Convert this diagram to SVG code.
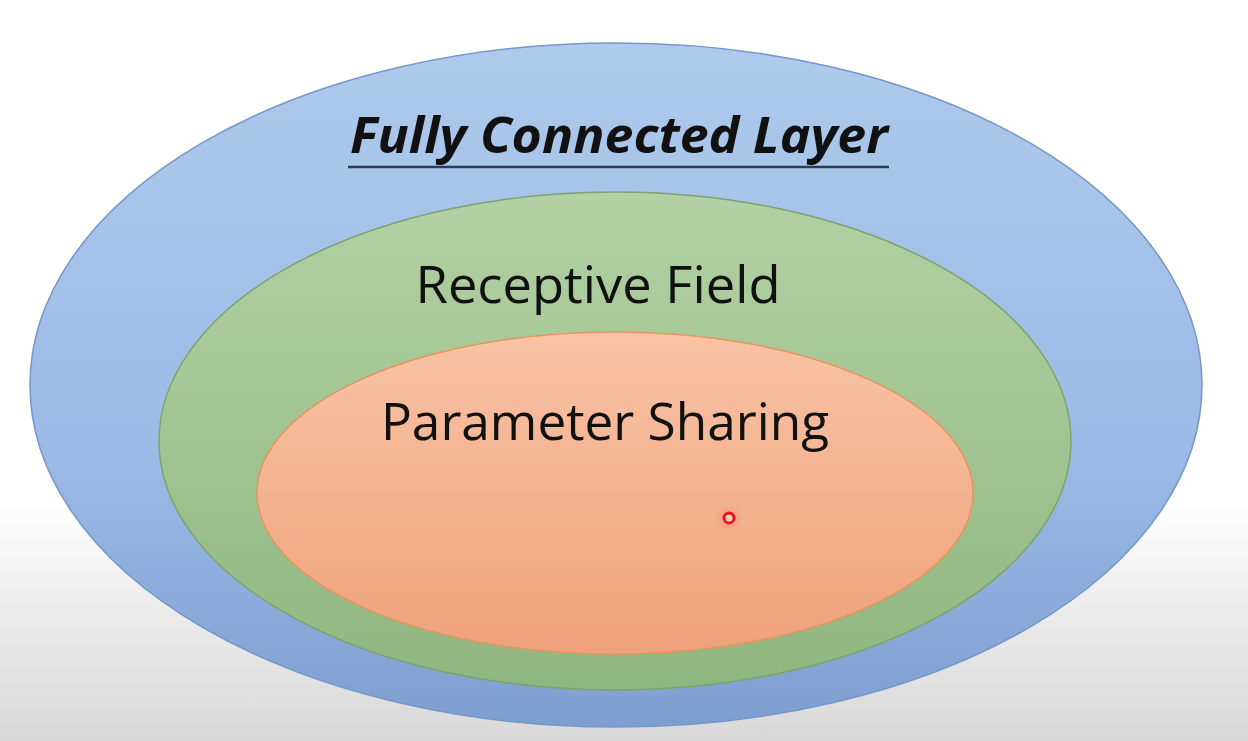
<svg xmlns="http://www.w3.org/2000/svg" width="1248" height="741" viewBox="0 0 1248 741">
<defs>
<linearGradient id="bg" x1="0" y1="0" x2="0" y2="1">
<stop offset="0" stop-color="#ffffff"/>
<stop offset="0.68" stop-color="#ffffff"/>
<stop offset="0.82" stop-color="#ececec"/>
<stop offset="1" stop-color="#d8d8d8"/>
</linearGradient>
<linearGradient id="gBlue" x1="0" y1="0" x2="0" y2="1">
<stop offset="0" stop-color="#aecaec"/>
<stop offset="0.6" stop-color="#9bbae6"/>
<stop offset="1" stop-color="#7d9fd0"/>
</linearGradient>
<linearGradient id="gGreen" x1="0" y1="0" x2="0" y2="1">
<stop offset="0" stop-color="#b3d1a4"/>
<stop offset="1" stop-color="#90b67f"/>
</linearGradient>
<linearGradient id="gOrange" x1="0" y1="0" x2="0" y2="1">
<stop offset="0" stop-color="#f9c3a6"/>
<stop offset="1" stop-color="#eea27a"/>
</linearGradient>
<radialGradient id="glow">
<stop offset="0" stop-color="#ff6060" stop-opacity="0.35"/>
<stop offset="1" stop-color="#ff6060" stop-opacity="0"/>
</radialGradient>
</defs>
<style>
.lbl{font-family:"Open Sans","Liberation Sans",sans-serif;fill:#111;text-anchor:middle}
.title{font-weight:bold;font-style:italic}
</style>
<rect x="0" y="0" width="1248" height="741" fill="url(#bg)"/>
<g id="fully-connected">
<ellipse cx="616" cy="385" rx="586" ry="342" fill="url(#gBlue)" stroke="#7596c8" stroke-width="1.5"/>
<text class="lbl title" x="619" y="153" font-size="50" textLength="538" lengthAdjust="spacingAndGlyphs">Fully Connected Layer</text>
<line x1="348" y1="167" x2="889" y2="167" stroke="#2c3e55" stroke-width="2.5"/>
</g>
<g id="receptive-field">
<ellipse cx="615" cy="441" rx="456" ry="249" fill="url(#gGreen)" stroke="#7ea36c" stroke-width="1.5"/>
<text class="lbl" x="598" y="303" font-size="52" textLength="365" lengthAdjust="spacingAndGlyphs">Receptive Field</text>
</g>
<g id="parameter-sharing">
<ellipse cx="615" cy="493" rx="358" ry="161" fill="url(#gOrange)" stroke="#e8945f" stroke-width="1.5"/>
<text class="lbl" x="605" y="440" font-size="52" textLength="448" lengthAdjust="spacingAndGlyphs">Parameter Sharing</text>
</g>
<g id="pointer">
<circle cx="729" cy="518" r="14" fill="url(#glow)"/>
<circle cx="729" cy="518" r="5" fill="#fbd0c0" stroke="#e81818" stroke-width="3"/>
</g>
</svg>
